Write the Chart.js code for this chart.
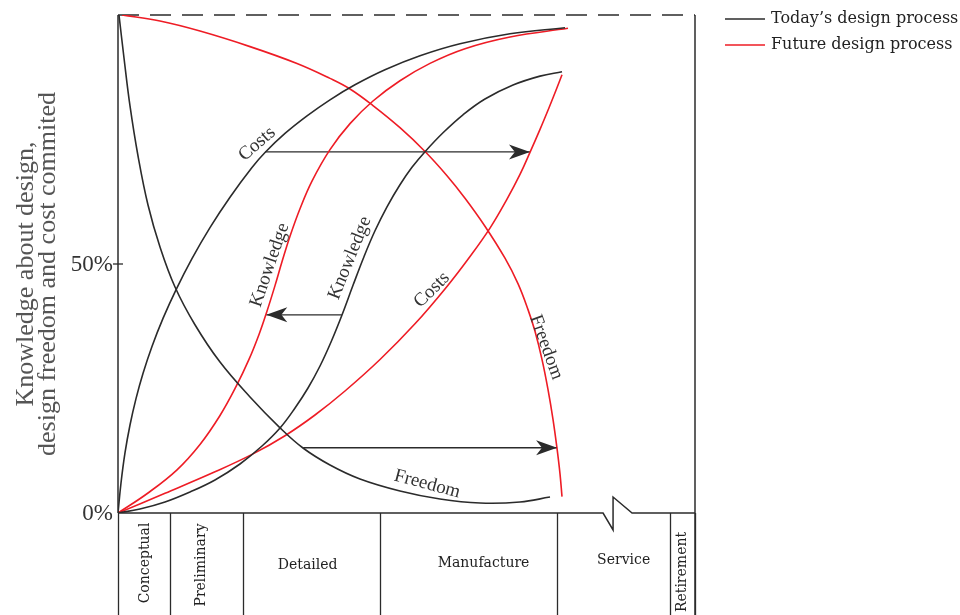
<!DOCTYPE html>
<html>
<head>
<meta charset="utf-8">
<script src="https://cdn.jsdelivr.net/npm/chart.js@4.4.1/dist/chart.umd.min.js"></script>
<style>
  html, body { margin: 0; padding: 0; background: #fff; }
  #wrap { position: relative; width: 960px; height: 615px; }
</style>
</head>
<body>
<div id="wrap"><canvas id="c" width="960" height="615"></canvas></div>
<script>
// ---- data (x = time through product life, 0..100; y = percent) ----
const seriesNames = ['Today\u2019s design process', 'Future design process'];
const yTickValues = [0, 50];
const yTickLabels = ['0%', '50%'];
const yTitle = ['Knowledge about design,', 'design freedom and cost commited'];

const phaseNames = ['Conceptual', 'Preliminary', 'Detailed', 'Manufacture', 'Service', 'Retirement'];
const phaseBounds = [0, 9.0, 21.7, 45.4, 76.1, 95.7, 100];
const phaseVertical = [true, true, false, false, false, true];

const todayFreedom = [[0.17,100],[1.04,91.37],[2.08,81.73],[3.47,71.69],[5.2,61.85],[7.28,53.41],[9.88,45.38],
  [13.34,37.8],[17.68,30.3],[22.88,23.3],[28.08,17.1],[32.06,13.05],[36.74,9.64],[41.94,6.83],[48.87,4.42],
  [55.81,2.8],[62.74,2.0],[69.67,2.2],[74.87,3.2]];
const todayCosts = [[0,0],[0.52,6.02],[1.21,12.05],[2.08,17.67],[3.12,22.97],[4.33,28.03],[5.89,33.45],[7.8,39.08],
  [10.05,44.82],[12.82,51.08],[15.94,57.31],[19.41,63.41],[23.22,69.38],[25.48,72.39],[28.94,76.21],[32.76,79.74],
  [36.74,82.97],[41.07,85.98],[46.27,89.0],[52.34,91.81],[59.27,94.22],[67.94,96.22],[77.47,97.43]];
const todayKnowledge = [[0,0],[3.81,0.8],[8.15,2.21],[12.48,4.22],[16.81,6.63],[21.14,9.84],[24.96,13.45],
  [28.08,17.07],[30.68,21.08],[32.93,25.1],[35.01,29.52],[36.92,34.34],[38.82,39.76],[40.73,45.72],[42.63,51.47],
  [44.54,56.67],[46.62,61.49],[48.87,65.92],[50.95,69.42],[53.21,72.55],[56.33,76.35],[59.79,79.96],[63.6,83.13],
  [68.46,85.94],[73.14,87.73],[76.95,88.61]];

const futureFreedom = [[0.69,100],[7.28,98.78],[14.21,96.77],[22.88,93.65],[31.02,90.26],[36.74,87.27],[40.21,85.14],
  [44.19,81.81],[48.87,77.37],[53.21,72.59],[57.02,67.73],[60.14,63.21],[63.6,57.59],[67.07,51.16],[69.32,46.06],
  [71.06,40.84],[72.27,36.49],[73.48,30.86],[74.52,24.84],[75.39,18.82],[76.08,13.03],[76.6,7.91],[76.95,3.29]];
const futureCosts = [[0,0],[8.15,3.96],[16.81,8.27],[23.4,11.87],[28.94,15.52],[34.14,19.68],[39.34,24.5],
  [45.41,30.82],[51.47,37.99],[57.02,45.5],[61.01,51.51],[64.47,57.21],[67.42,63.03],[69.67,67.99],[71.4,72.41],
  [73.14,77.03],[74.7,81.37],[75.91,84.88],[76.95,88.01]];
const futureKnowledge = [[0,0],[5.2,4.02],[10.23,8.67],[14.21,13.76],[17.68,19.58],[20.45,25.36],[22.7,30.84],
  [24.44,35.86],[25.82,40.52],[27.21,45.66],[28.42,50.44],[29.81,55.58],[31.54,61.1],[33.62,66.65],[36.74,72.97],
  [40.21,78.19],[44.19,82.73],[48.87,86.79],[54.07,90.28],[60.14,93.23],[67.94,95.58],[77.99,97.33]];

// shifts between today and future (start -> end)
const costsShift = [[25.5,72.5],[71.4,72.5]];
const knowledgeShift = [[38.8,39.8],[25.7,39.8]];
const freedomShift = [[32.1,13.1],[76.1,13.1]];

// curve captions: text, anchor (data units), angle in degrees
const curveLabels = [
  ['Costs', 24.1, 74.1, -41],
  ['Knowledge', 40.2, 51.2, -68],
  ['Knowledge', 26.3, 49.8, -71],
  ['Costs', 54.4, 44.8, -45],
  ['Freedom', 74.2, 33.3, 70],
  ['Freedom', 53.6, 5.8, 15]
];

const BLACK = '#2b2b2b';
const RED = '#ee1c25';
const pts = a => a.map(p => ({x: p[0], y: p[1]}));

const curve = (d, c) => ({data: pts(d), borderColor: c, borderWidth: 1.6, showLine: true,
  pointRadius: 0, tension: 0.4, fill: false});
const arrow = d => ({data: pts(d), borderColor: BLACK, borderWidth: 1.3, showLine: true,
  pointRadius: 0, tension: 0, isArrow: true, fill: false});

const frame = {
  id: 'frame',
  beforeDatasetsDraw(chart) {
    const {ctx, chartArea: a, scales: {x, y}} = chart;
    const H = chart.height;
    ctx.save();
    ctx.strokeStyle = BLACK;
    ctx.lineWidth = 1.5;
    // left axis
    ctx.beginPath(); ctx.moveTo(a.left, a.top); ctx.lineTo(a.left, a.bottom); ctx.stroke();
    // right border down into the phase table
    ctx.beginPath(); ctx.moveTo(a.right, a.top); ctx.lineTo(a.right, H); ctx.stroke();
    // bottom axis with a break in the service phase
    const bx = x.getPixelForValue(85.8);
    ctx.beginPath();
    ctx.moveTo(a.left, a.bottom); ctx.lineTo(bx - 10, a.bottom);
    ctx.lineTo(bx, a.bottom + 17); ctx.lineTo(bx, a.bottom - 16);
    ctx.lineTo(bx + 19, a.bottom); ctx.lineTo(a.right, a.bottom);
    ctx.stroke();
    // dashed 100% line
    ctx.setLineDash([21, 11]);
    ctx.beginPath(); ctx.moveTo(a.left, a.top); ctx.lineTo(a.right, a.top); ctx.stroke();
    ctx.setLineDash([]);
    // phase table dividers
    ctx.lineWidth = 1.3;
    phaseBounds.forEach(v => {
      const px = Math.round(x.getPixelForValue(v)) + 0.5;
      ctx.beginPath(); ctx.moveTo(px, a.bottom); ctx.lineTo(px, H); ctx.stroke();
    });
    // phase names
    ctx.fillStyle = '#222';
    ctx.font = '14px "DejaVu Serif"';
    ctx.textBaseline = 'middle';
    ctx.textAlign = 'center';
    const vOff = [50, 52, 52, 50, 47, 59];
    const hOff = [1, -5, -4, 15, 10, 0];
    phaseNames.forEach((n, i) => {
      const cx = (x.getPixelForValue(phaseBounds[i]) + x.getPixelForValue(phaseBounds[i + 1])) / 2;
      ctx.save();
      ctx.translate(cx + hOff[i], a.bottom + vOff[i]);
      if (phaseVertical[i]) ctx.rotate(-Math.PI / 2);
      ctx.fillText(n, 0, 0);
      ctx.restore();
    });
    // y ticks and labels
    ctx.lineWidth = 1.3;
    ctx.font = '23px "Liberation Serif"';
    ctx.textAlign = 'right';
    ctx.fillStyle = '#333';
    yTickValues.forEach((v, i) => {
      const py = y.getPixelForValue(v);
      if (v > 0) { ctx.beginPath(); ctx.moveTo(a.left - 5, py); ctx.lineTo(a.left + 5, py); ctx.stroke(); }
      ctx.fillText(yTickLabels[i], a.left - 5, py + 1);
    });
    // y title
    ctx.save();
    ctx.fillStyle = '#555';
    ctx.font = '26px "Liberation Serif"';
    ctx.translate(26, 274);
    ctx.rotate(-Math.PI / 2);
    ctx.textAlign = 'center';
    ctx.fillText(yTitle[0], 0, 0);
    ctx.fillText(yTitle[1], 0, 22);
    ctx.restore();
    // legend
    ctx.font = '16px "DejaVu Serif"';
    ctx.textAlign = 'left';
    ctx.fillStyle = '#222';
    [BLACK, RED].forEach((c, i) => {
      const ly = 19 + i * 26;
      ctx.strokeStyle = c; ctx.lineWidth = 1.6;
      ctx.beginPath(); ctx.moveTo(725, ly); ctx.lineTo(765, ly); ctx.stroke();
      ctx.fillText(seriesNames[i], 771, ly);
    });
    ctx.restore();
  },
  afterDatasetsDraw(chart) {
    const {ctx, scales: {x, y}} = chart;
    ctx.save();
    // arrow heads
    chart.data.datasets.forEach(ds => {
      if (!ds.isArrow) return;
      const p0 = ds.data[0], p1 = ds.data[1];
      const x0 = x.getPixelForValue(p0.x), y0 = y.getPixelForValue(p0.y);
      const x1 = x.getPixelForValue(p1.x), y1 = y.getPixelForValue(p1.y);
      const len = Math.hypot(x1 - x0, y1 - y0), dx = (x1 - x0) / len, dy = (y1 - y0) / len;
      const L = 21, W = 7.5;
      ctx.fillStyle = BLACK;
      ctx.beginPath();
      ctx.moveTo(x1, y1);
      ctx.lineTo(x1 - dx * L - dy * W, y1 - dy * L + dx * W);
      ctx.lineTo(x1 - dx * L * 0.72, y1 - dy * L * 0.72);
      ctx.lineTo(x1 - dx * L + dy * W, y1 - dy * L - dx * W);
      ctx.closePath();
      ctx.fill();
    });
    // curve captions
    ctx.fillStyle = '#333';
    ctx.font = '19px "Liberation Serif"';
    ctx.textAlign = 'center';
    ctx.textBaseline = 'middle';
    curveLabels.forEach(([t, lx, ly, ang]) => {
      ctx.save();
      ctx.translate(x.getPixelForValue(lx), y.getPixelForValue(ly));
      ctx.rotate(ang * Math.PI / 180);
      ctx.fillText(t, 0, 0);
      ctx.restore();
    });
    ctx.restore();
  }
};

new Chart(document.getElementById('c'), {
  type: 'scatter',
  data: {
    datasets: [
      curve(todayFreedom, BLACK), curve(todayCosts, BLACK), curve(todayKnowledge, BLACK),
      curve(futureFreedom, RED), curve(futureCosts, RED), curve(futureKnowledge, RED),
      arrow(costsShift), arrow(knowledgeShift), arrow(freedomShift)
    ]
  },
  options: {
    responsive: false,
    animation: false,
    layout: {padding: {left: 118, right: 265, top: 15, bottom: 102}},
    scales: {
      x: {type: 'linear', min: 0, max: 100, display: false},
      y: {type: 'linear', min: 0, max: 100, display: false}
    },
    plugins: {legend: {display: false}, tooltip: {enabled: false}}
  },
  plugins: [frame]
});
</script>
</body>
</html>
